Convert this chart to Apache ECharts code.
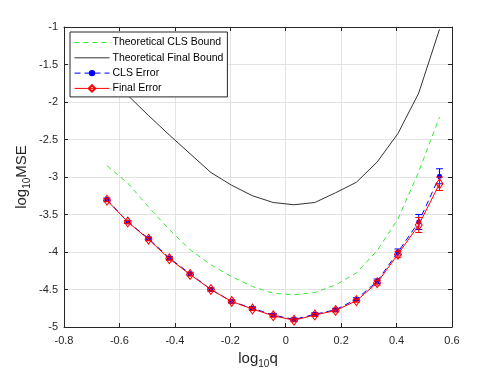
<!DOCTYPE html>
<html>
<head>
<meta charset="utf-8">
<script src="https://cdn.jsdelivr.net/npm/echarts@6/dist/echarts.min.js"></script>
<style>html,body{margin:0;padding:0;background:#fff}#c{width:498px;height:374px}</style>
</head>
<body>
<div id="c"></div>
<script>
// ---- data ----
var xVals = [-0.645, -0.57, -0.495, -0.42, -0.345, -0.27, -0.195, -0.12, -0.045, 0.03, 0.105, 0.18, 0.255, 0.33, 0.405, 0.48, 0.555];
var clsBound = [-2.85, -3.08, -3.40, -3.70, -3.97, -4.17, -4.33, -4.46, -4.55, -4.57, -4.54, -4.44, -4.28, -3.98, -3.56, -2.93, -2.20];
var finalBound = [-1.65, -1.91, -2.18, -2.44, -2.69, -2.94, -3.11, -3.25, -3.34, -3.37, -3.34, -3.21, -3.07, -2.80, -2.42, -1.88, -1.03];
var clsError = [-3.30, -3.60, -3.82, -4.08, -4.29, -4.50, -4.66, -4.75, -4.84, -4.90, -4.83, -4.77, -4.63, -4.39, -4.00, -3.60, -2.99];
var clsErrBar = [0.02, 0.02, 0.02, 0.02, 0.02, 0.02, 0.02, 0.02, 0.02, 0.02, 0.02, 0.02, 0.02, 0.03, 0.04, 0.10, 0.10];
var finalError = [-3.31, -3.60, -3.83, -4.09, -4.30, -4.50, -4.66, -4.76, -4.85, -4.91, -4.84, -4.78, -4.65, -4.41, -4.03, -3.64, -3.09];
var finalErrBar = [0.02, 0.02, 0.02, 0.02, 0.02, 0.02, 0.02, 0.02, 0.02, 0.02, 0.02, 0.02, 0.02, 0.03, 0.04, 0.10, 0.09];
var seriesNames = ['Theoretical CLS Bound', 'Theoretical Final Bound', 'CLS Error', 'Final Error'];

function pairs(xs, ys) { return xs.map(function (x, i) { return [x, ys[i]]; }); }
function errData(xs, ys, es) { return xs.map(function (x, i) { return [x, ys[i] - es[i], ys[i] + es[i]]; }); }
function errRender(color) {
  return function (params, api) {
    var x = api.value(0);
    var lo = api.coord([x, api.value(1)]);
    var hi = api.coord([x, api.value(2)]);
    var w = 3.5;
    var st = { stroke: color, lineWidth: 1, fill: 'none' };
    return {
      type: 'group',
      children: [
        { type: 'line', shape: { x1: lo[0], y1: lo[1], x2: hi[0], y2: hi[1] }, style: st },
        { type: 'line', shape: { x1: lo[0] - w, y1: lo[1], x2: lo[0] + w, y2: lo[1] }, style: st },
        { type: 'line', shape: { x1: hi[0] - w, y1: hi[1], x2: hi[0] + w, y2: hi[1] }, style: st }
      ]
    };
  };
}

var FONT = 'Liberation Sans, Arial, Helvetica, sans-serif';
var TXT = '#262626';
var GREEN = '#33ee33';
var chart = echarts.init(document.getElementById('c'), null, { renderer: 'canvas' });
var axisCommon = {
  axisLine: { show: true, onZero: false, lineStyle: { color: TXT, width: 1 } },
  axisTick: { show: true, inside: true, length: 4, lineStyle: { color: TXT } }
};
var nameRich = {
  a: { fontSize: 15, fontFamily: FONT, color: TXT, lineHeight: 18, verticalAlign: 'top' },
  b: { fontSize: 10, fontFamily: FONT, color: TXT, lineHeight: 12, padding: [8, 0, 0, 0], verticalAlign: 'top' }
};
chart.setOption({
  animation: false,
  backgroundColor: '#fff',
  textStyle: { fontFamily: FONT },
  grid: { left: 64, right: 46, top: 27, bottom: 47, containLabel: false },
  legend: {
    data: [
      { name: seriesNames[0], itemStyle: { opacity: 0 }, lineStyle: { width: 1, color: GREEN, type: [5, 4] } },
      { name: seriesNames[1], itemStyle: { opacity: 0 }, lineStyle: { width: 1, color: '#333' } },
      { name: seriesNames[2], lineStyle: { width: 1, color: '#0000ff', type: [6, 4] } },
      { name: seriesNames[3], lineStyle: { width: 1, color: '#ff0000' } }
    ],
    orient: 'vertical',
    left: 70, top: 32,
    padding: [5, 4, 3, 4],
    itemWidth: 35, itemHeight: 8, itemGap: 4.3,
    backgroundColor: '#fff',
    borderColor: TXT, borderWidth: 1, borderRadius: 0,
    textStyle: { fontFamily: FONT, fontSize: 10.5, lineHeight: 11, color: '#000', padding: [0, 0, 0, -2] }
  },
  xAxis: [
    Object.assign({
      type: 'value', min: -0.8, max: 0.6, interval: 0.2, position: 'bottom',
      axisLabel: { color: TXT, fontSize: 11, fontFamily: FONT, margin: 8,
        formatter: function (v) { return String(parseFloat(v.toFixed(1))); } },
      splitLine: { show: true, lineStyle: { color: '#e3e3e3', width: 1 } },
      name: '{a|log}{b|10}{a|q}', nameLocation: 'middle', nameGap: 22,
      nameTextStyle: { rich: nameRich }
    }, axisCommon),
    Object.assign({
      type: 'value', min: -0.8, max: 0.6, interval: 0.2, position: 'top',
      axisLabel: { show: false }, splitLine: { show: false }
    }, axisCommon)
  ],
  yAxis: [
    Object.assign({
      type: 'value', min: -5, max: -1, interval: 0.5, position: 'left',
      axisLabel: { color: TXT, fontSize: 11, fontFamily: FONT, margin: 6 },
      splitLine: { show: true, lineStyle: { color: '#e3e3e3', width: 1 } },
      name: '{a|log}{b|10}{a|MSE}', nameLocation: 'middle', nameGap: 32,
      nameMoveOverlap: false,
      nameTextStyle: { rich: nameRich }
    }, axisCommon),
    Object.assign({
      type: 'value', min: -5, max: -1, interval: 0.5, position: 'right',
      axisLabel: { show: false }, splitLine: { show: false }
    }, axisCommon)
  ],
  series: [
    {
      name: seriesNames[0], type: 'line', data: pairs(xVals, clsBound),
      showSymbol: false, symbol: 'none',
      lineStyle: { color: GREEN, width: 1, type: [5, 4] },
      itemStyle: { color: GREEN }
    },
    {
      name: seriesNames[1], type: 'line', data: pairs(xVals, finalBound),
      showSymbol: false, symbol: 'none',
      lineStyle: { color: '#333', width: 1 },
      itemStyle: { color: '#333' }
    },
    {
      name: 'clsErr', type: 'custom', data: errData(xVals, clsError, clsErrBar),
      renderItem: errRender('#0000ff'), z: 3
    },
    {
      name: seriesNames[2], type: 'line', data: pairs(xVals, clsError),
      symbol: 'circle', symbolSize: 5,
      lineStyle: { color: '#0000ff', width: 1, type: [6, 4] },
      itemStyle: { color: '#0000ff' }, z: 3
    },
    {
      name: 'finalErr', type: 'custom', data: errData(xVals, finalError, finalErrBar),
      renderItem: errRender('#ff0000'), z: 4
    },
    {
      name: seriesNames[3], type: 'line', data: pairs(xVals, finalError),
      symbol: 'diamond', symbolSize: [7, 10],
      lineStyle: { color: '#ff0000', width: 1 },
      itemStyle: { color: 'rgba(255,255,255,0)', borderColor: '#ff0000', borderWidth: 1 }, z: 4
    }
  ]
});
</script>
</body>
</html>
